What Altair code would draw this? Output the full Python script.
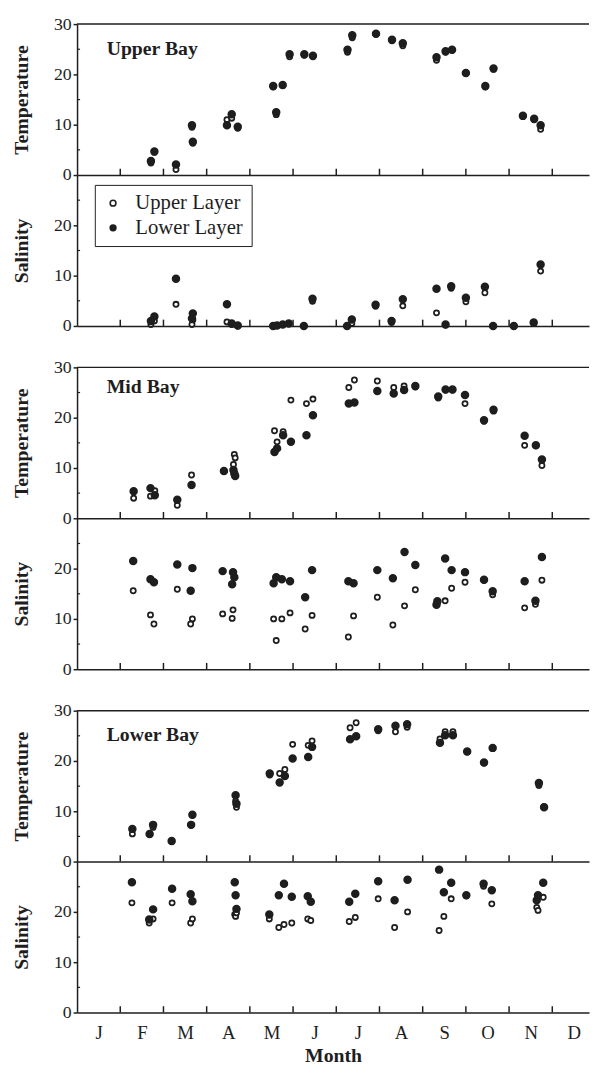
import json
import altair as alt
import pandas as pd

FONT = "Liberation Serif"
INK = "#1e1e1e"

MONTHS = ["J", "F", "M", "A", "M", "J", "J", "A", "S", "O", "N", "D"]
MONTH_BOUNDARIES = [1, 2, 3, 4, 5, 6, 7, 8, 9, 10, 11]
MONTH_CENTERS = [i + 0.5 for i in range(12)]
X_MAX = 11.85
TEMP_TICKS = [0, 10, 20, 30]
SAL_TICKS = [0, 10, 20]
MINOR_TICKS = [5, 15, 25]
LAYERS = ["Upper Layer", "Lower Layer"]

# ---------------- Upper Bay ----------------
ub_t_month = [1.71, 1.79, 2.29, 2.66, 2.68, 3.47, 3.58, 3.72, 4.54, 4.61, 4.76, 4.92, 5.26, 5.46,
              6.26, 6.37, 6.92, 7.29, 7.54, 8.32, 8.53, 8.68, 9.00, 9.45, 9.64, 10.32, 10.58, 10.73]
ub_t_upper = [2.4, 4.5, 1.1, 9.5, 6.3, 11.0, 11.3, 9.3, 17.5, 12.0, 17.8, 23.5, 23.8, 23.5,
              24.4, 27.3, 28.0, 26.7, 25.7, 22.8, 24.4, 24.8, 20.2, 17.5, 21.0, 11.6, 11.0, 9.1]
ub_t_lower = [2.8, 4.7, 2.1, 9.9, 6.6, 9.9, 12.1, 9.6, 17.7, 12.5, 17.9, 24.0, 24.0, 23.7,
              24.9, 27.8, 28.1, 26.9, 26.2, 23.4, 24.6, 24.9, 20.3, 17.7, 21.2, 11.8, 11.2, 9.9]

ub_s_month = [1.71, 1.79, 2.29, 2.66, 2.68, 3.47, 3.58, 3.72, 4.54, 4.63, 4.76, 4.90, 5.25, 5.45,
              6.25, 6.36, 6.91, 7.28, 7.54, 8.32, 8.53, 8.66, 9.00, 9.44, 9.63, 10.11, 10.57, 10.73]
ub_s_upper = [0.3, 1.0, 4.3, 0.3, 1.2, 0.8, 0.3, 0.0, 0.0, 0.1, 0.3, 0.5, 0.0, 4.9,
              0.0, 0.5, 3.9, 0.7, 4.0, 2.6, 0.2, 7.5, 4.8, 6.6, 0.0, 0.0, 0.5, 10.9]
ub_s_lower = [1.0, 1.9, 9.4, 1.5, 2.5, 4.3, 0.5, 0.1, 0.0, 0.1, 0.3, 0.5, 0.0, 5.4,
              0.0, 1.3, 4.2, 1.0, 5.3, 7.4, 0.3, 7.9, 5.6, 7.8, 0.0, 0.0, 0.7, 12.2]

# ---------------- Mid Bay ----------------
mb_t_month = [1.31, 1.70, 1.80, 2.32, 2.65, 3.40, 3.62, 3.64, 3.66, 4.57, 4.63, 4.77, 4.95, 5.31,
              5.46, 6.29, 6.42, 6.95, 7.33, 7.57, 7.83, 8.36, 8.53, 8.69, 8.98, 9.42, 9.64,
              10.36, 10.62, 10.76]
mb_t_upper = [4.0, 4.4, 5.5, 2.6, 8.6, 9.3, 10.7, 12.7, 12.0, 17.4, 15.2, 17.2, 23.5, 22.8,
              23.7, 26.0, 27.5, 27.3, 26.0, 26.3, 26.1, 23.9, 25.5, 25.5, 22.8, 19.3, 21.3,
              14.5, 14.4, 10.5]
mb_t_lower = [5.4, 6.0, 4.6, 3.7, 6.6, 9.4, 9.6, 8.9, 8.4, 13.2, 13.9, 16.5, 15.2, 16.5,
              20.5, 22.8, 23.0, 25.3, 24.8, 25.5, 26.3, 24.2, 25.6, 25.6, 24.5, 19.5, 21.6,
              16.4, 14.5, 11.7]

mb_s_month = [1.30, 1.70, 1.78, 2.32, 2.63, 2.67, 3.37, 3.59, 3.61, 3.64, 4.55, 4.61, 4.74, 4.93,
              5.28, 5.44, 6.28, 6.40, 6.95, 7.31, 7.58, 7.83, 8.32, 8.34, 8.52, 8.67, 8.98,
              9.42, 9.62, 10.36, 10.61, 10.76]
mb_s_upper = [15.6, 10.8, 9.0, 15.9, 9.0, 10.0, 11.0, 10.1, 11.8, 18.3, 10.0, 5.7, 10.0, 11.2,
              8.0, 10.7, 6.4, 10.6, 14.3, 8.8, 12.6, 15.8, 12.8, 13.3, 13.6, 16.1, 17.3,
              17.7, 14.8, 12.2, 12.9, 17.7]
mb_s_lower = [21.5, 17.9, 17.3, 20.8, 15.6, 20.1, 19.5, 16.9, 19.3, 18.3, 17.1, 18.3, 17.9, 17.5,
              14.3, 19.7, 17.5, 17.1, 19.7, 18.1, 23.3, 20.7, 12.8, 13.5, 22.0, 19.7, 19.3,
              17.8, 15.5, 17.5, 13.6, 22.3]

# ---------------- Lower Bay ----------------
lb_t_month = [1.28, 1.68, 1.76, 2.19, 2.64, 2.67, 3.67, 3.69, 4.46, 4.69, 4.81, 4.99, 5.35, 5.44,
              6.32, 6.46, 6.97, 7.37, 7.64, 8.40, 8.52, 8.70, 9.03, 9.42, 9.62, 10.69, 10.81]
lb_t_upper = [5.5, 5.4, 6.8, 4.0, 7.2, 9.2, 12.0, 10.8, 17.2, 17.5, 18.3, 23.3, 23.1, 24.0,
              26.6, 27.6, 26.0, 25.8, 26.7, 24.4, 25.8, 25.8, 21.8, 19.6, 22.5, 15.1, 10.9]
lb_t_lower = [6.5, 5.5, 7.3, 4.1, 7.3, 9.3, 13.2, 11.5, 17.5, 15.7, 17.0, 20.5, 20.8, 22.8,
              24.3, 24.9, 26.3, 27.0, 27.3, 23.6, 25.1, 25.1, 21.9, 19.7, 22.6, 15.6, 10.8]

lb_s_month = [1.27, 1.67, 1.76, 2.20, 2.63, 2.67, 3.65, 3.67, 3.69, 4.45, 4.67, 4.79, 4.97, 5.34,
              5.41, 6.30, 6.44, 6.97, 7.35, 7.65, 8.38, 8.49, 8.66, 9.01, 9.41, 9.60,
              10.64, 10.67, 10.79]
lb_s_upper = [21.8, 17.8, 18.6, 21.8, 17.8, 18.6, 19.5, 19.1, 19.8, 18.6, 16.9, 17.5, 17.8, 18.6,
              18.3, 18.1, 18.9, 22.6, 16.9, 20.0, 16.3, 19.1, 22.6, 23.2, 25.1, 21.6,
              20.9, 20.3, 22.9]
lb_s_lower = [25.9, 18.5, 20.5, 24.6, 23.5, 22.1, 25.9, 23.3, 20.6, 19.5, 23.3, 25.6, 23.0, 23.1,
              22.0, 22.0, 23.6, 26.1, 22.3, 26.4, 28.4, 23.9, 25.8, 23.3, 25.6, 24.3,
              22.3, 23.3, 25.8]

W = 519
H = 153


def xs():
    return alt.Scale(domain=[0, X_MAX], nice=False, zero=False)


def ys():
    return alt.Scale(domain=[0, 30], nice=False, zero=False)


def panel(months, upper, lower, ytitle, yvals, name=None, name_y=31, top_border=False,
          bottom_labels=False, legend=None):
    rows = []
    for m, u, l in zip(months, upper, lower):
        rows.append({"month": m, "value": u, "layer": LAYERS[0], "z": 0})
        rows.append({"month": m, "value": l, "layer": LAYERS[1], "z": 1})
    df = pd.DataFrame(rows)

    if bottom_labels:
        xaxis = alt.Axis(values=MONTH_CENTERS, ticks=False, grid=False,
                         labelExpr=json.dumps(MONTHS) + "[floor(datum.value)]",
                         labelPadding=11, labelFontSize=19, title="Month", titlePadding=4)
    else:
        xaxis = alt.Axis(values=MONTH_CENTERS, ticks=False, labels=False, grid=False, title=None)

    yaxis = alt.Axis(values=yvals, title=ytitle, tickSize=4, labelPadding=2, titlePadding=22,
                     labelFlush=False, labelOverlap=False, grid=False)

    pts = alt.Chart(df).mark_point(shape="circle", filled=True, stroke=INK, strokeWidth=1.8,
                                   opacity=1).encode(
        x=alt.X("month:Q", scale=xs(), axis=xaxis),
        y=alt.Y("value:Q", scale=ys(), axis=yaxis),
        fill=alt.Fill("layer:N", scale=alt.Scale(domain=LAYERS, range=["white", INK]),
                      legend=legend),
        size=alt.condition(alt.datum.layer == LAYERS[0], alt.value(27), alt.value(46)),
        order=alt.Order("z:Q"),
    )

    xticks = alt.Chart(pd.DataFrame({"month": MONTH_BOUNDARIES})).mark_rule(
        color=INK, strokeWidth=1.5).encode(
        x=alt.X("month:Q", scale=xs()),
        y=alt.YDatum(0, scale=ys()),
        y2=alt.datum(1.25),
    )
    yminor = alt.Chart(pd.DataFrame({"value": MINOR_TICKS})).mark_rule(
        color=INK, strokeWidth=1.2).encode(
        y=alt.Y("value:Q", scale=ys()),
        x=alt.XDatum(0, scale=xs()),
        x2=alt.datum(0.07),
    )
    layers = [pts, xticks, yminor]
    if top_border:
        layers.append(alt.Chart(pd.DataFrame({"value": [30]})).mark_rule(
            color=INK, strokeWidth=1.5).encode(y=alt.Y("value:Q", scale=ys())))
    if name:
        layers.append(alt.Chart(pd.DataFrame({"label": [name]})).mark_text(
            align="left", baseline="alphabetic", font=FONT, fontSize=20, fontWeight="bold",
            color=INK).encode(text="label:N", x=alt.value(30), y=alt.value(name_y)))
    return alt.layer(*layers).properties(width=W, height=H)


legend = alt.Legend(orient="none", legendX=18, legendY=10, title=None, strokeColor=INK,
                    fillColor="white", padding=8, labelFont=FONT, labelFontSize=21,
                    labelColor=INK, symbolType="circle", symbolSize=34,
                    symbolStrokeColor=INK, symbolStrokeWidth=1.6, rowPadding=3,
                    labelOffset=12)

upper = alt.vconcat(
    panel(ub_t_month, ub_t_upper, ub_t_lower, "Temperature", TEMP_TICKS, "Upper Bay", 31, True),
    panel(ub_s_month, ub_s_upper, ub_s_lower, "Salinity", SAL_TICKS, legend=legend),
    spacing=0, bounds="flush").resolve_legend(fill="independent")
mid = alt.vconcat(
    panel(mb_t_month, mb_t_upper, mb_t_lower, "Temperature", TEMP_TICKS, "Mid Bay", 26, True),
    panel(mb_s_month, mb_s_upper, mb_s_lower, "Salinity", SAL_TICKS),
    spacing=0, bounds="flush").resolve_legend(fill="independent")
lower = alt.vconcat(
    panel(lb_t_month, lb_t_upper, lb_t_lower, "Temperature", TEMP_TICKS, "Lower Bay", 31, True),
    panel(lb_s_month, lb_s_upper, lb_s_lower, "Salinity", SAL_TICKS, bottom_labels=True),
    spacing=0, bounds="flush").resolve_legend(fill="independent")

chart = alt.vconcat(upper, mid, lower, spacing=24).resolve_legend(
    fill="independent").properties(
    padding={"left": 4, "top": 0, "right": 0, "bottom": 0},
    background="white",
).configure_view(stroke=None).configure_axis(
    labelFont=FONT, titleFont=FONT, labelFontSize=18, titleFontSize=20,
    titleFontWeight="bold", labelColor=INK, titleColor=INK, domainColor=INK,
    tickColor=INK, domainWidth=1.5, tickWidth=1.5,
)

chart.save("out.html", embed_options={"renderer": "svg", "actions": False})
